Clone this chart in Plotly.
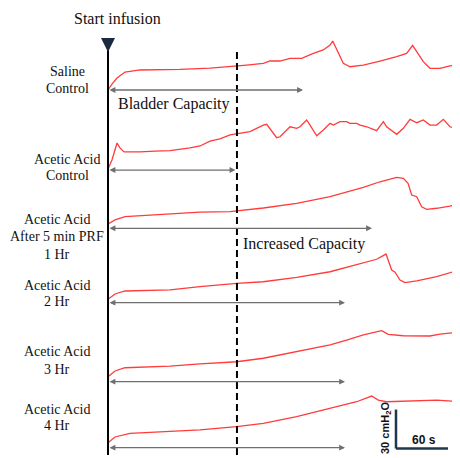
import plotly.graph_objects as go

# ---------------- data (time in s from start of infusion, pressure in cmH2O) ----------------
row_labels = [["Saline", "Control"], ["Acetic Acid", "Control"],
              ["Acetic Acid", "After 5 min PRF", "1 Hr"], ["Acetic Acid", "2 Hr"],
              ["Acetic Acid", "3 Hr"], ["Acetic Acid", "4 Hr"]]

t_saline = [0, 4.6, 10.4, 19.6, 36.9, 60, 83.1, 117.7, 140.8, 160, 179.2, 186.9, 198.5, 210, 223.5,
            236.9, 248.4, 256.2, 259.3, 263.9, 271.5, 279.2, 294.6, 313.8, 333.1, 344.6, 351.5,
            356.2, 363.8, 371.5, 383.1, 394.6, 406.2]
p_saline = [0, 4.6, 9.2, 13.8, 15.4, 15.4, 15.8, 16.9, 17.9, 19.2, 20.5, 22.3, 22.3, 24.4, 24.4,
            28.2, 30.8, 34.6, 37.7, 30.8, 20.5, 17.9, 19.2, 22.3, 25.6, 28.2, 34.4,
            29.5, 21.8, 16.7, 16.7, 18.5, 19.8]

t_aa_ctrl = [0, 4.6, 10.4, 13.8, 18.5, 36.9, 54.2, 71.5, 94.6, 106.2, 117.7, 129.2, 140.8, 163.8,
             179.2, 183.1, 194.6, 198.5, 210, 217.7, 221.5, 229.2, 233.1, 240.8, 248.5, 256.2,
             260, 267.7, 275.4, 279.2, 286.9, 290.8, 298.5, 310, 317.7, 321.5, 333.1, 340.8,
             348.5, 356.2, 363.8, 371.5, 379.2, 386.9, 394.6, 400.4, 406.2]
p_aa_ctrl = [0, 6.9, 20, 16.2, 13.1, 13.1, 13.8, 14.2, 16.2, 17.7, 21.5, 23.1, 26.2, 28.7,
             33.8, 34.4, 24.1, 24.8, 32.5, 31.3, 32.5, 37.7, 33.8, 25.6, 30, 35.1,
             33.8, 36.4, 36.4, 35.1, 35.1, 33.8, 32.5, 29.5, 36.4, 32.5, 26.7, 31.3,
             38.2, 35.6, 37.7, 33.8, 33.8, 38.2, 32.5, 31.3, 35.1]

t_aa_1h = [0, 8.1, 19.6, 36.9, 71.5, 106.2, 140.8, 179.2, 217.7, 256.2, 294.6, 313.8, 333.1,
           340.8, 346.2, 350.4, 356.2, 361.9, 367.7, 379.2, 394.6, 406.2]
p_aa_1h = [0, 3.1, 5.6, 6.4, 7.7, 9.2, 9.5, 12.3, 15.9, 21, 28.2, 32.5, 35.9,
           35.1, 31.3, 22.3, 21, 13.3, 11.3, 12.1, 13.8, 15.9]

t_aa_2h = [0, 8.1, 19.6, 71.5, 106.2, 148.5, 179.2, 217.7, 256.2, 275.4, 294.6, 310, 320.8,
           323.4, 327.3, 331.2, 336.9, 342.7, 356.2, 379.2, 398.4, 402.3, 406.2]
p_aa_2h = [0, 4.1, 6.4, 7.2, 9.7, 12.3, 13.5, 16.9, 21.2, 24.6, 28.2, 30.8, 34.8,
           30.1, 22.5, 20.8, 14.8, 12.8, 14.1, 17.4, 21.2, 25.1, 31.5]

t_aa_3h = [0, 8.1, 19.6, 71.5, 106.2, 148.5, 179.2, 217.7, 256.2, 275.4, 294.6, 315.8, 323.4,
           340.8, 371.5, 383.1, 406.2]
p_aa_3h = [0, 4.4, 6.9, 8.2, 9.8, 11.5, 14.2, 19.2, 24.4, 28.2, 32.1, 35.4, 32.6,
           31.5, 31.3, 32.8, 34.2]

t_aa_4h = [0, 8.1, 25.4, 71.5, 106.2, 148.5, 179.2, 217.7, 256.2, 286.9, 304.2, 311.9, 321.5,
           356.2, 379.2, 406.2]
p_aa_4h = [0, 4.4, 7.2, 8.5, 9.8, 12.3, 14.9, 20, 26.5, 31.5, 35.9, 32.8, 31.5,
           32.3, 32.8, 31.5]

series_t = [t_saline, t_aa_ctrl, t_aa_1h, t_aa_2h, t_aa_3h, t_aa_4h]
series_p = [p_saline, p_aa_ctrl, p_aa_1h, p_aa_2h, p_aa_3h, p_aa_4h]

# bladder capacity arrows: end time (s) per recording
capacity_t = [225, 147, 304.6, 273.5, 273.5, 273.5]
capacity_p = [0, -0.8, -3.3, -2.6, -3.8, -3.8]

dashed_t = 148.8        # control capacity reference
scale_t = 60            # s
scale_p = 30            # cmH2O

# ---------------- layout helpers (window pixel -> figure coords) ----------------
OFF = 8                     # page body margin
WW, WH = 460, 458           # window size
W, H = WW - OFF, WH - OFF   # figure size
X0_PX = 108                 # window pixel of t = 0
S_T = 60 / 52               # s per px
S_P = 30 / 39               # cmH2O per px
baseline_px = [90, 169, 224, 299.3, 376.7, 442.7]

def px_x(px):
    return (px - OFF) / W

def px_y(py):
    return 1 - (py - OFF) / H

fig = go.Figure()
RED = "#ff3b3b"
for i in range(6):
    yname = "y" if i == 0 else f"y{i+1}"
    fig.add_trace(go.Scatter(x=series_t[i], y=series_p[i], mode="lines",
                             line=dict(color=RED, width=1.3), yaxis=yname,
                             hoverinfo="skip", showlegend=False))

layout_axes = {}
for i, b in enumerate(baseline_px):
    key = "yaxis" if i == 0 else f"yaxis{i+1}"
    ax = dict(range=[-(WH - b) * S_P, (b - OFF) * S_P], visible=False, domain=[0, 1],
              showgrid=False, zeroline=False, fixedrange=True)
    if i > 0:
        ax["overlaying"] = "y"
    layout_axes[key] = ax

fig.update_layout(
    width=W, height=H, margin=dict(l=0, r=0, t=0, b=0),
    paper_bgcolor="white", plot_bgcolor="white",
    xaxis=dict(range=[(OFF - X0_PX) * S_T, (WW - X0_PX) * S_T], visible=False,
               showgrid=False, zeroline=False, fixedrange=True),
    showlegend=False,
    **layout_axes,
)

serif = "Liberation Serif"
annotations = []
shapes = []


def text_ann(txt, x, y, size, family=serif, angle=0):
    return dict(text=txt, x=px_x(x), y=px_y(y), xref="paper", yref="paper",
                showarrow=False, xanchor="center", yanchor="middle", textangle=angle,
                font=dict(family=family, size=size, color="#111"))


# row labels (one annotation per line for tight line spacing)
label_lines_pos = [
    [(67, 71.7), (67, 88)],
    [(67, 159.3), (67, 175)],
    [(56.5, 219), (56.5, 236.7), (56.5, 254.3)],
    [(56.5, 285), (56.5, 301.7)],
    [(56.5, 351.7), (56.5, 369.3)],
    [(56.5, 409), (56.5, 425.7)],
]
for lines, poss in zip(row_labels, label_lines_pos):
    for txt, (lx, ly) in zip(lines, poss):
        annotations.append(text_ann(txt, lx, ly, 14))

# capacity arrows
for i in range(6):
    yref = "y" if i == 0 else f"y{i+1}"
    annotations.append(dict(text="", x=capacity_t[i], y=capacity_p[i], ax=0, ay=capacity_p[i],
                            xref="x", yref=yref, axref="x", ayref=yref, showarrow=True,
                            arrowhead=2, arrowside="end+start", arrowsize=0.9,
                            arrowwidth=1.3, arrowcolor="#6f6f6f", standoff=0, startstandoff=0))

# text labels
annotations.append(text_ann("Start infusion", 117, 18, 16))
annotations.append(text_ann("Bladder Capacity", 174, 104, 16))
annotations.append(text_ann("Increased Capacity", 304, 244, 16))

# start infusion arrow
annotations.append(dict(text="", x=0, y=px_y(52), xref="x", yref="paper", ax=0, ay=-15,
                        showarrow=True, arrowhead=2, arrowsize=0.8, arrowwidth=3.5,
                        arrowcolor="#1c2a40"))

# vertical infusion line and dashed line
shapes.append(dict(type="line", xref="x", yref="paper", x0=0, x1=0, y0=px_y(50), y1=px_y(455),
                   line=dict(color="black", width=2)))
shapes.append(dict(type="line", xref="x", yref="paper", x0=dashed_t, x1=dashed_t,
                   y0=px_y(52), y1=px_y(455), line=dict(color="black", width=2, dash="7px,4px")))

# scale bar (in row-6 axis units)
sb_t0 = 332.3
sb_p0 = -4.5
shapes.append(dict(type="line", xref="x", yref="y6", x0=sb_t0, x1=sb_t0 + scale_t, y0=sb_p0, y1=sb_p0,
                   line=dict(color="#1f3550", width=2.5)))
shapes.append(dict(type="line", xref="x", yref="y6", x0=sb_t0, x1=sb_t0, y0=sb_p0, y1=sb_p0 + scale_p,
                   line=dict(color="#1f3550", width=2.5)))
annotations.append(text_ann("<b>60 s</b>", 424, 440, 12, family="Liberation Sans"))
annotations.append(text_ann("<b>30 cmH<sub>2</sub>O</b>", 386, 428, 11,
                            family="Liberation Sans", angle=-90))

fig.update_layout(annotations=annotations, shapes=shapes)
fig.write_html("out.html")
